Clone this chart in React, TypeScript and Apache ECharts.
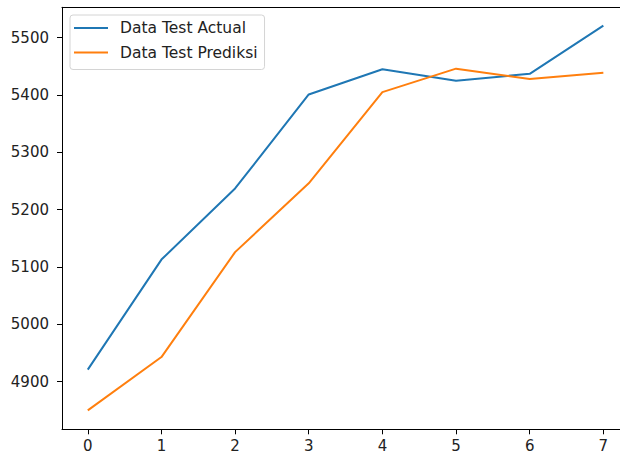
import React, { useEffect, useRef } from "react";
import * as echarts from "echarts";

const xTicks = [0, 1, 2, 3, 4, 5, 6, 7];
const yTicks = [4900, 5000, 5100, 5200, 5300, 5400, 5500];
const actual = [4921, 5113, 5237, 5401, 5445, 5425, 5437, 5521];
const prediksi = [4850, 4943, 5126, 5246, 5405, 5446, 5428, 5439];
const seriesNames = ["Data Test Actual", "Data Test Prediksi"];

export default function App() {
  const ref = useRef<HTMLDivElement>(null);
  useEffect(() => {
    if (!ref.current) return;
    const chart = echarts.init(ref.current, null, { renderer: "svg" });
    const font = "DejaVu Sans";
    const fs = 15;
    chart.setOption({
      animation: false,
      backgroundColor: "#fff",
      textStyle: { fontFamily: font },
      grid: {
        left: 62,
        top: 7.3,
        right: 0,
        bottom: 27.7,
      },
      legend: {
        orient: "vertical",
        left: 70,
        top: 15,
        padding: [5, 7, 9, 4],
        itemGap: 8.5,
        itemWidth: 34,
        itemHeight: 2,
        icon: "rect",
        backgroundColor: "rgba(255,255,255,0.8)",
        borderColor: "#d4d4d4",
        borderWidth: 1,
        borderRadius: 3,
        textStyle: {
          fontFamily: font,
          fontSize: 15.5,
          color: "#222",
          padding: [0, 0, 0, 7],
        },
        data: seriesNames,
      },
      xAxis: [
        {
          type: "value",
          min: -0.35,
          max: 7.226,
          splitLine: { show: false },
          axisLine: { show: true, onZero: false, lineStyle: { color: "#000", width: 1 } },
          axisTick: {
            show: true,
            length: 5,
            lineStyle: { color: "#000", width: 1 },
            customValues: xTicks,
          },
          axisLabel: {
            customValues: xTicks,
            margin: 9,
            fontFamily: font,
            fontSize: fs,
            color: "#222",
          },
        },
        {
          type: "value",
          position: "top",
          min: -0.35,
          max: 7.226,
          splitLine: { show: false },
          axisLine: { show: true, onZero: false, lineStyle: { color: "#000", width: 1 } },
          axisTick: { show: false },
          axisLabel: { show: false },
        },
      ],
      yAxis: {
        type: "value",
        min: 4817,
        max: 5553,
        splitLine: { show: false },
        axisLine: { show: true, onZero: false, lineStyle: { color: "#000", width: 1 } },
        axisTick: {
          show: true,
          length: 5,
          lineStyle: { color: "#000", width: 1 },
          customValues: yTicks,
        },
        axisLabel: {
          customValues: yTicks,
          formatter: (v: number) => String(v),
          margin: 13,
          fontFamily: font,
          fontSize: fs,
          color: "#222",
        },
      },
      series: [
        {
          name: seriesNames[0],
          type: "line",
          symbol: "none",
          data: xTicks.map((x, i) => [x, actual[i]]),
          lineStyle: { color: "#1f77b4", width: 2 },
          itemStyle: { color: "#1f77b4" },
        },
        {
          name: seriesNames[1],
          type: "line",
          symbol: "none",
          data: xTicks.map((x, i) => [x, prediksi[i]]),
          lineStyle: { color: "#ff7f0e", width: 2 },
          itemStyle: { color: "#ff7f0e" },
        },
      ],
    });
    return () => chart.dispose();
  }, []);
  return (
    <div
      ref={ref}
      style={{ position: "absolute", left: 0, top: 0, width: 620, height: 457 }}
    />
  );
}
